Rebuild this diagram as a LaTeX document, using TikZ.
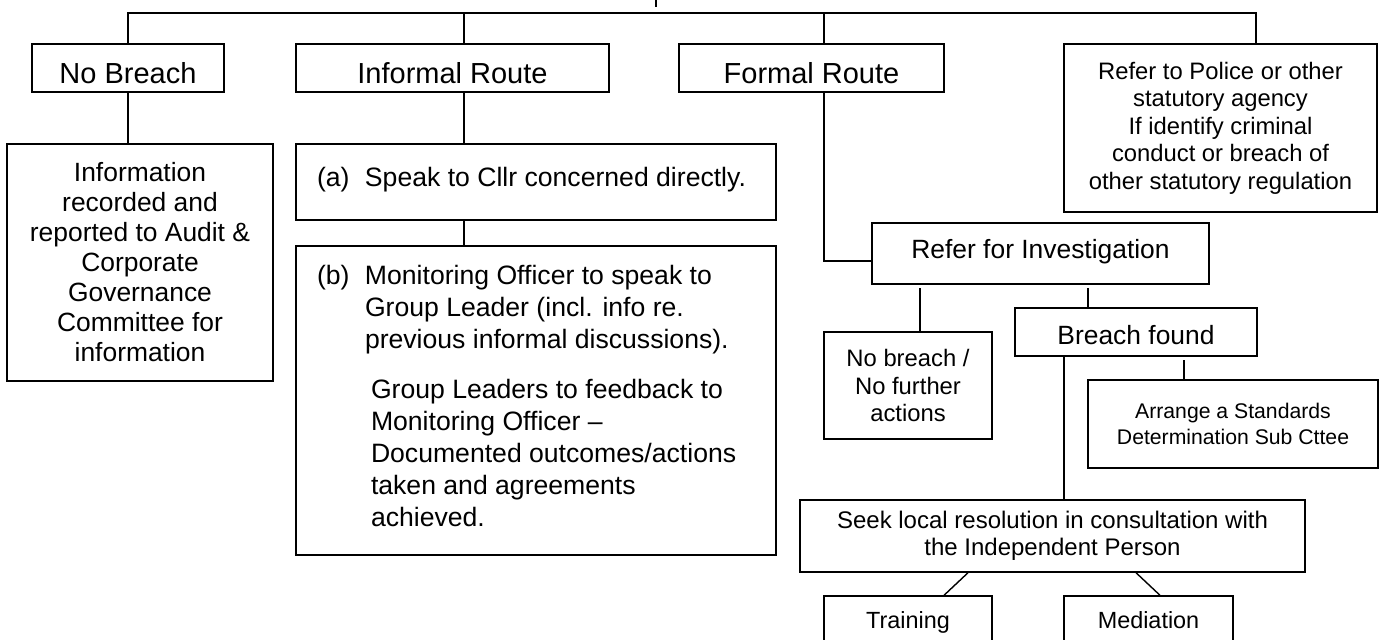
\documentclass[tikz,border=0pt]{standalone}
\usepackage{fontspec}
\setmainfont{Liberation Sans}
\tikzset{
  boxline/.style={draw, line width=0.7pt, inner sep=0pt},
  headbox/.style={boxline, align=center, minimum height=24pt, text height=15pt, text depth=0pt, font=\fontsize{14.5}{17}\selectfont},
  midbox/.style={boxline, align=center, font=\fontsize{13.2}{15}\selectfont},
  smallbox/.style={boxline, align=center, font=\fontsize{11.9}{13.75}\selectfont},
  tinybox/.style={boxline, align=center, font=\fontsize{10.6}{13}\selectfont},
  listbox/.style={boxline, font=\fontsize{13.3}{16}\selectfont},
  leafbox/.style={boxline, align=center, minimum height=24pt, text height=8.5pt, text depth=0pt, font=\fontsize{11.7}{14}\selectfont},
  link/.style={line width=0.7pt}
}

\begin{document}
\begin{tikzpicture}[x=0.5pt, y=-0.5pt]
  \useasboundingbox (0,0) rectangle (1386,639);
  \node[headbox, minimum width=96pt] (nobr) at (128,68) {No Breach};
  \node[headbox, minimum width=156.5pt] (infr) at (452.5,68) {Informal Route};
  \node[headbox, minimum width=132.5pt] (form) at (811.5,68) {Formal Route};
  \node[smallbox, minimum width=156.5pt, minimum height=84pt] (police) at (1220.5,128) {Refer to Police or other\\statutory agency\\If identify criminal\\conduct or breach of\\other statutory regulation};
  \node[midbox, minimum width=133pt, minimum height=118.5pt] (info) at (140,262.5) {Information\\recorded and\\reported to Audit \&\\Corporate\\Governance\\Committee for\\information};
  \node[listbox] (spka) at (536,182) {\parbox[c][38pt][t]{240pt}{\rule{0pt}{21.25pt}\hspace*{10.5pt}\makebox[24pt][l]{(a)}Speak to Cllr concerned directly.}};
  \node[listbox] (spkb) at (536,400.5) {\parbox[c][154.5pt][t]{240pt}{%
    \rule{0pt}{19.25pt}\hspace*{10.5pt}\makebox[24pt][l]{(b)}Monitoring Officer to speak to\\
    \hspace*{34.5pt}Group Leader (incl. info re.\\
    \hspace*{34.5pt}previous informal discussions).\\[9pt]
    \hspace*{37.5pt}Group Leaders to feedback to\\
    \hspace*{37.5pt}Monitoring Officer --\\
    \hspace*{37.5pt}Documented outcomes/actions\\
    \hspace*{37.5pt}taken and agreements\\
    \hspace*{37.5pt}achieved.}};
  \node[midbox, minimum width=168.5pt, minimum height=30.5pt, text height=9.5pt, text depth=4.5pt] (refer) at (1040.5,253.5) {Refer for Investigation};
  \node[smallbox, minimum width=84pt, minimum height=53.5pt] (nofur) at (908,385.5) {No breach /\\No further\\actions};
  \node[midbox, minimum width=121pt, minimum height=24pt, text height=12.5pt, text depth=0pt] (brf) at (1136,332) {Breach found};
  \node[tinybox, minimum width=145pt, minimum height=44pt] (arr) at (1233,424) {Arrange a Standards\\Determination Sub Cttee};
  \node[smallbox, minimum width=252.5pt, minimum height=36pt, font=\fontsize{12}{13.5}\selectfont] (seek) at (1052.5,536) {Seek local resolution in consultation with\\the Independent Person};
  \node[leafbox, minimum width=84pt] (train) at (908,620) {Training};
  \node[leafbox, minimum width=84.5pt] (medi) at (1148.5,620) {Mediation};

  \coordinate (stubtop) at (656,0);
  \coordinate (stubend) at (656,7);
  \coordinate (busl) at (128,13);
  \coordinate (busi) at (464,13);
  \coordinate (busf) at (824,13);
  \coordinate (busr) at (1256,13);
  \coordinate (elbow) at (824,261);
  \coordinate (jnof) at (920,288);
  \coordinate (jbrf) at (1088,288);
  \coordinate (jarr) at (1184,360);
  \coordinate (jseek) at (1064,356);

  \draw[link] (stubtop) -- (stubend);
  \draw[link] (nobr.north) -- (busl) -- (busr) -- (busr |- police.north);
  \draw[link] (busi) -- (busi |- infr.north);
  \draw[link] (busf) -- (busf |- form.north);
  \draw[link] (nobr.south) -- (nobr.south |- info.north);
  \draw[link] (busi |- infr.south) -- (busi |- spka.north);
  \draw[link] (busi |- spka.south) -- (busi |- spkb.north);
  \draw[link] (busf |- form.south) -- (elbow) -- (elbow -| refer.west);
  \draw[link] (jnof) -- (jnof |- nofur.north);
  \draw[link] (jbrf) -- (jbrf |- brf.north);
  \draw[link] (jarr) -- (jarr |- arr.north);
  \draw[link] (jseek |- brf.south) -- (jseek |- seek.north);
  \draw[link] ([xshift=-42.25pt]seek.south) -- ([xshift=18pt]train.north);
  \draw[link] ([xshift=41.75pt]seek.south) -- ([xshift=5.75pt]medi.north);
\end{tikzpicture}
\end{document}
